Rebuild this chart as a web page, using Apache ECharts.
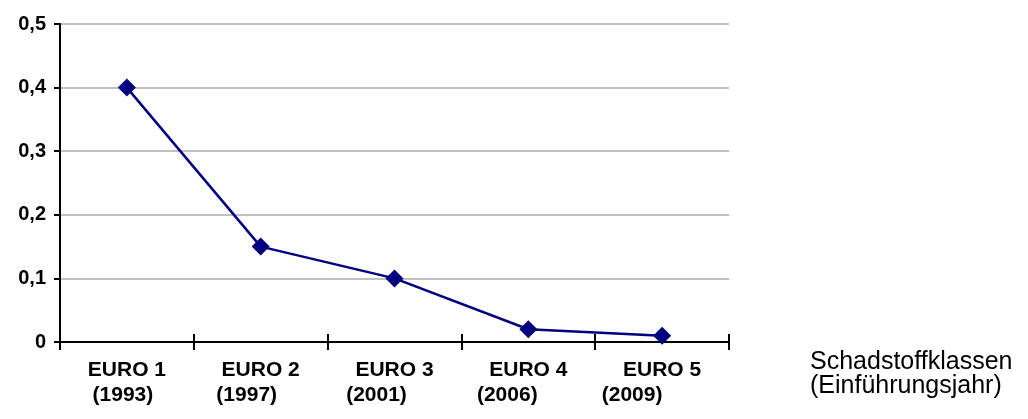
<!DOCTYPE html>
<html>
<head>
<meta charset="utf-8">
<script src="https://cdn.jsdelivr.net/npm/echarts@6/dist/echarts.min.js"></script>
<style>
  html, body { margin: 0; padding: 0; background: #ffffff; }
  #chart { width: 1028px; height: 419px; }
</style>
</head>
<body>
<div id="chart"></div>
<script>
// Emission classes and their year of introduction
const categories = ['EURO 1', 'EURO 2', 'EURO 3', 'EURO 4', 'EURO 5'];
const years = ['1993', '1997', '2001', '2006', '2009'];
// Limit values per class
const values = [0.4, 0.15, 0.1, 0.02, 0.01];
// Y axis tick labels (German decimal comma)
const yTickLabels = ['0', '0,1', '0,2', '0,3', '0,4', '0,5'];
// How far each year line sits left of its class name
const yearIndent = [8, 28, 36, 42, 60];

const FONT = 'Arial, "Liberation Sans", Helvetica, sans-serif';
const PLOT_HEIGHT = 419 - 24 - 77;

const rich = {
  cls: { fontFamily: FONT, fontWeight: 'bold', fontSize: 21, color: '#000', lineHeight: 25 }
};
yearIndent.forEach((p, i) => {
  rich['y' + i] = { fontFamily: FONT, fontWeight: 'bold', fontSize: 21, color: '#000', lineHeight: 25, padding: [0, p, 0, 0] };
});

const chart = echarts.init(document.getElementById('chart'), null, { renderer: 'canvas' });

chart.setOption({
  animation: false,
  backgroundColor: '#ffffff',
  grid: { left: 60, right: 299, top: 24, bottom: 77, containLabel: false },
  xAxis: [
    {
      type: 'category',
      data: categories,
      boundaryGap: true,
      name: 'Schadstoffklassen\n(Einführungsjahr)',
      nameLocation: 'end',
      nameGap: 81,
      nameTextStyle: {
        fontFamily: FONT, fontSize: 25, color: '#000',
        align: 'left', verticalAlign: 'top', lineHeight: 24,
        padding: [8, 0, 0, 0]
      },
      axisLine: { show: true, lineStyle: { color: '#000', width: 2 } },
      axisTick: { show: true, length: 8, lineStyle: { color: '#000', width: 2 } },
      axisLabel: {
        margin: 16,
        formatter: (v, i) => '{cls|' + v + '}\n{y' + i + '|(' + years[i] + ')}',
        rich: rich
      },
      splitLine: { show: false }
    },
    {
      // upper half of the crossing category ticks, moved down onto the bottom edge
      type: 'category',
      data: categories,
      position: 'top',
      offset: -PLOT_HEIGHT,
      boundaryGap: true,
      axisLine: { show: false },
      axisTick: { show: true, length: 8, lineStyle: { color: '#000', width: 2 } },
      axisLabel: { show: false },
      splitLine: { show: false }
    }
  ],
  yAxis: {
    type: 'value',
    min: 0,
    max: 0.5,
    interval: 0.1,
    axisLine: { show: true, lineStyle: { color: '#000', width: 2 } },
    axisTick: { show: true, length: 6, lineStyle: { color: '#000', width: 2 } },
    axisLabel: {
      margin: 14,
      fontFamily: FONT, fontWeight: 'bold', fontSize: 20, color: '#000',
      formatter: (v) => yTickLabels[Math.round(v * 10)]
    },
    splitLine: { show: true, lineStyle: { color: '#c0c0c0', width: 2 } }
  },
  series: [
    {
      type: 'line',
      data: values,
      xAxisIndex: 0,
      symbol: 'diamond',
      symbolSize: 18,
      lineStyle: { color: '#000080', width: 2.5 },
      itemStyle: { color: '#000080' },
      z: 5
    }
  ]
});
</script>
</body>
</html>
